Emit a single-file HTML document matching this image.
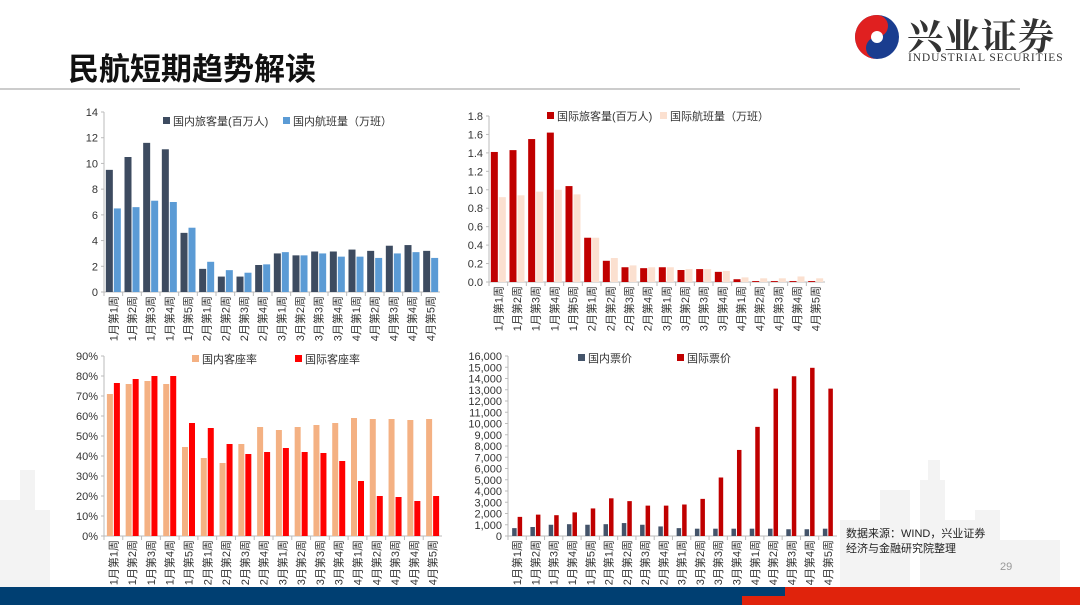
<!DOCTYPE html>
<html><head><meta charset="utf-8"><style>
body{margin:0;width:1080px;height:605px;overflow:hidden;background:#fff;font-family:"Liberation Sans","Noto Sans CJK SC",sans-serif;}
svg{position:absolute;left:0;top:0}
</style></head><body>
<svg id="s" width="1080" height="605" xmlns="http://www.w3.org/2000/svg" font-family="Liberation Sans, Noto Sans CJK SC, sans-serif">
<g fill="#f3f3f3">
<rect x="0" y="500" width="20" height="90"/><rect x="20" y="470" width="15" height="120"/><rect x="30" y="510" width="20" height="80"/>
<rect x="840" y="520" width="40" height="70"/><rect x="880" y="490" width="30" height="100"/><rect x="920" y="480" width="25" height="110"/><rect x="928" y="460" width="12" height="40"/><rect x="945" y="520" width="30" height="70"/><rect x="975" y="510" width="25" height="80"/><rect x="1000" y="540" width="60" height="50"/>
</g>
<text x="68" y="80" font-size="31" font-weight="bold" fill="#111">民航短期趋势解读</text>
<line x1="0" y1="89" x2="1020" y2="89" stroke="#bbb" stroke-width="1.5"/>
<circle cx="877" cy="37" r="22" fill="#1a3d8f"/>
<path d="M877 15 A22 22 0 0 0 877 59 A11 11 0 0 1 877 37 A11 11 0 0 0 877 15Z" fill="#e02020"/>
<circle cx="877" cy="37" r="6" fill="#fff"/>
<text x="907" y="49" font-size="36" font-weight="bold" fill="#333" font-family="Noto Serif CJK SC, serif" letter-spacing="1">兴业证券</text>
<text x="908" y="61" font-size="11.5" fill="#333" font-family="Liberation Serif, serif" letter-spacing="0.9">INDUSTRIAL SECURITIES</text>
<g id="charts"></g>
<text x="846" y="537" font-size="11" fill="#222">数据来源：WIND，兴业证券</text>
<text x="846" y="552" font-size="11" fill="#222">经济与金融研究院整理</text>
<text x="1000" y="570" font-size="11" fill="#999">29</text>
<rect x="0" y="587" width="785" height="18" fill="#003f72"/>
<rect x="785" y="587" width="295" height="18" fill="#e0230c"/>
<rect x="742" y="596" width="43" height="9" fill="#e0230c"/>
</svg>
<script>
var labs=["1月第1周","1月第2周","1月第3周","1月第4周","1月第5周","2月第1周","2月第2周","2月第3周","2月第4周","3月第1周","3月第2周","3月第3周","3月第4周","4月第1周","4月第2周","4月第3周","4月第4周","4月第5周"];
var charts=[
{x0:104,x1:440,y0:292,y1:112,max:14,ticks:[0,2,4,6,8,10,12,14],fmt:function(v){return v},
 a:[9.5,10.5,11.6,11.1,4.6,1.8,1.2,1.2,2.1,3.0,2.85,3.15,3.15,3.3,3.2,3.6,3.65,3.2],
 b:[6.5,6.6,7.1,7.0,5.0,2.35,1.7,1.5,2.15,3.1,2.85,3.0,2.75,2.75,2.65,3.0,3.1,2.65],
 ca:"#3d4b60",cb:"#5b9bd5",la:"国内旅客量(百万人)",lb:"国内航班量（万班）",lx:[163,283],ly:121,bw:7},
{x0:489,x1:825,y0:282,y1:116,max:1.8,ticks:[0,0.2,0.4,0.6,0.8,1.0,1.2,1.4,1.6,1.8],fmt:function(v){return v.toFixed(1)},
 a:[1.41,1.43,1.55,1.62,1.04,0.48,0.23,0.16,0.15,0.16,0.13,0.14,0.11,0.03,0.01,0.01,0.01,0.01],
 b:[0.92,0.94,0.98,1.0,0.95,0.48,0.26,0.18,0.16,0.16,0.14,0.14,0.12,0.05,0.04,0.04,0.06,0.04],
 ca:"#c00000",cb:"#fbe0d0",la:"国际旅客量(百万人)",lb:"国际航班量（万班）",lx:[547,660],ly:116,bw:7},
{x0:104,x1:442,y0:536,y1:356,max:90,ticks:[0,10,20,30,40,50,60,70,80,90],fmt:function(v){return v+"%"},
 a:[71,76,77.5,76,44.5,39,36.5,46,54.5,53,54.5,55.5,56.5,59,58.5,58.5,58,58.5],
 b:[76.5,78.5,80,80,56.5,54,46,41,42,44,42,41.5,37.5,27.5,20,19.5,17.5,20],
 ca:"#f4b183",cb:"#ff0000",la:"国内客座率",lb:"国际客座率",lx:[192,295],ly:359,bw:6},
{x0:508,x1:837,y0:536,y1:356,max:16000,ticks:[0,1000,2000,3000,4000,5000,6000,7000,8000,9000,10000,11000,12000,13000,14000,15000,16000],fmt:function(v){return v.toLocaleString("en-US")},
 a:[700,800,1000,1050,1000,1050,1150,1000,850,700,650,650,650,650,650,600,600,650],
 b:[1700,1900,1850,2100,2450,3350,3100,2700,2700,2800,3300,5200,7650,9700,13100,14200,14950,13100],
 ca:"#44546a",cb:"#c00000",la:"国内票价",lb:"国际票价",lx:[578,677],ly:358,bw:4.5}
];
var h="";
charts.forEach(function(c){
 var n=18,w=(c.x1-c.x0)/n,sc=(c.y0-c.y1)/c.max;
 h+='<line x1="'+c.x0+'" y1="'+c.y1+'" x2="'+c.x0+'" y2="'+c.y0+'" stroke="#bbb"/>';
 h+='<line x1="'+c.x0+'" y1="'+c.y0+'" x2="'+c.x1+'" y2="'+c.y0+'" stroke="#bbb"/>';
 c.ticks.forEach(function(t){var y=c.y0-t*sc;h+='<line x1="'+(c.x0-3)+'" y1="'+y+'" x2="'+c.x0+'" y2="'+y+'" stroke="#bbb"/><text x="'+(c.x0-6)+'" y="'+(y+4)+'" font-size="11" text-anchor="end" fill="#333">'+c.fmt(t)+'</text>';});
 for(var i=0;i<n;i++){
  var xs=c.x0+i*w,cx=xs+w/2;
  h+='<line x1="'+xs+'" y1="'+c.y0+'" x2="'+xs+'" y2="'+(c.y0+4)+'" stroke="#bbb"/>';
  var ha=c.a[i]*sc,hb=c.b[i]*sc;
  h+='<rect x="'+(cx-c.bw-0.5)+'" y="'+(c.y0-ha)+'" width="'+c.bw+'" height="'+ha+'" fill="'+c.ca+'"/>';
  h+='<rect x="'+(cx+0.5)+'" y="'+(c.y0-hb)+'" width="'+c.bw+'" height="'+hb+'" fill="'+c.cb+'"/>';
  h+='<text transform="translate('+(cx+4)+','+(c.y0+4)+') rotate(-90)" font-size="11" text-anchor="end" fill="#333">'+labs[i]+'</text>';
 }
 h+='<rect x="'+c.lx[0]+'" y="'+(c.ly-4)+'" width="7" height="7" fill="'+c.ca+'"/><text x="'+(c.lx[0]+10)+'" y="'+(c.ly+4)+'" font-size="11" fill="#333">'+c.la+'</text>';
 h+='<rect x="'+c.lx[1]+'" y="'+(c.ly-4)+'" width="7" height="7" fill="'+c.cb+'"/><text x="'+(c.lx[1]+10)+'" y="'+(c.ly+4)+'" font-size="11" fill="#333">'+c.lb+'</text>';
});
document.getElementById("charts").innerHTML=h;
</script>
</body></html>
